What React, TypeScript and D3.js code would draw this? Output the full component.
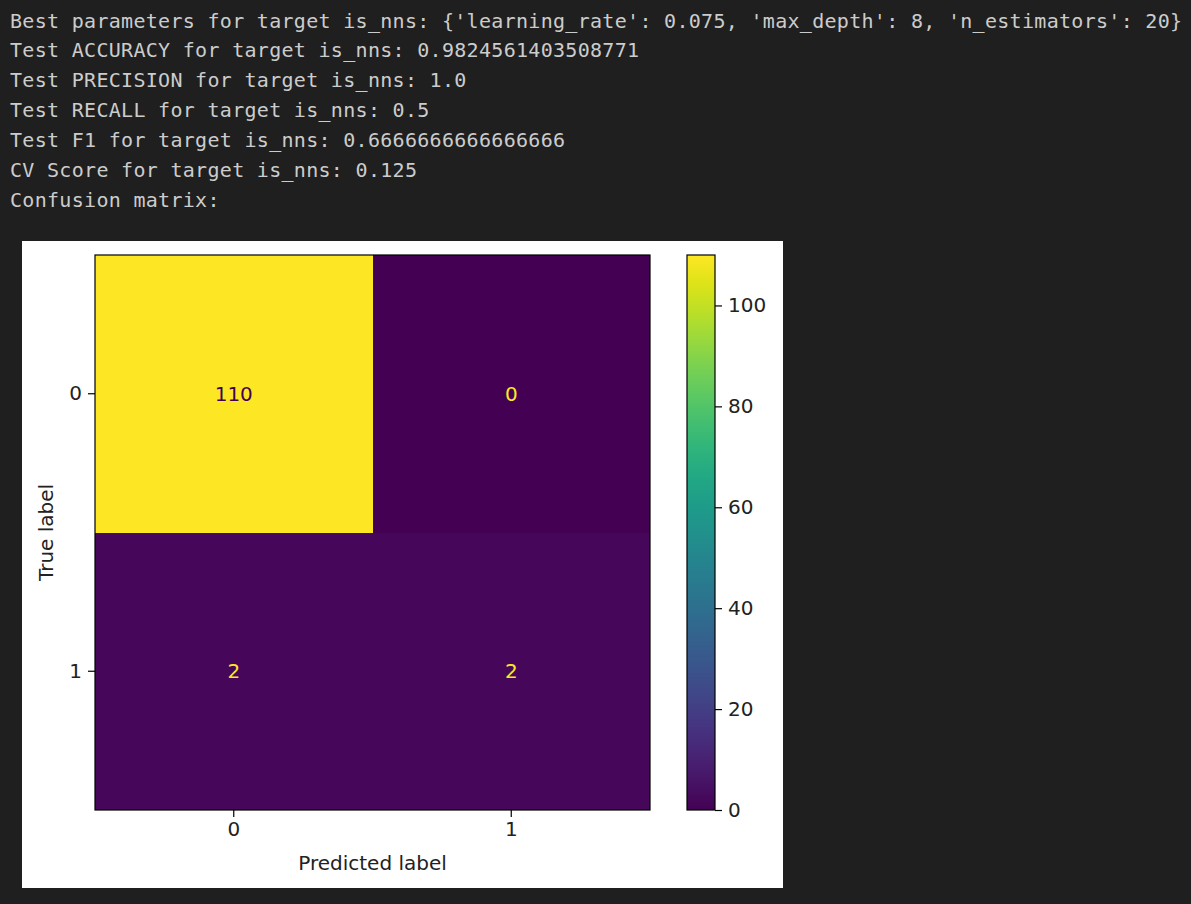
import { useEffect, useRef } from "react";
import * as d3 from "d3";

const logLines = [
  "Best parameters for target is_nns: {'learning_rate': 0.075, 'max_depth': 8, 'n_estimators': 20}",
  "Test ACCURACY for target is_nns: 0.9824561403508771",
  "Test PRECISION for target is_nns: 1.0",
  "Test RECALL for target is_nns: 0.5",
  "Test F1 for target is_nns: 0.6666666666666666",
  "CV Score for target is_nns: 0.125",
  "Confusion matrix:",
];

const trueLabels = ["0", "1"];
const predictedLabels = ["0", "1"];
const row0 = [110, 0];
const row1 = [2, 2];
const colorMin = 0;
const colorMax = 110;
const colorbarTicks = [0, 20, 40, 60, 80, 100];

export default function App() {
  const svgRef = useRef<SVGSVGElement>(null);

  useEffect(() => {
    if (!svgRef.current) return;
    const width = 1191;
    const height = 904;
    const svg = d3.select(svgRef.current);
    svg.selectAll("*").remove();
    svg.attr("viewBox", `0 0 ${width} ${height}`);

    // dark notebook background
    svg.append("rect").attr("width", width).attr("height", height).attr("fill", "#1f1f1f");

    // console output
    svg.append("g")
      .selectAll("text")
      .data(logLines)
      .join("text")
      .attr("x", 10)
      .attr("y", (_, i) => 27.5 + i * 29.85)
      .attr("fill", "#cccccc")
      .attr("font-family", "'DejaVu Sans Mono', 'Liberation Mono', monospace")
      .attr("font-size", "20px")
      .attr("letter-spacing", "0.3px")
      .style("white-space", "pre")
      .text(d => d);

    // white figure panel
    svg.append("rect")
      .attr("x", 22).attr("y", 241)
      .attr("width", 761).attr("height", 647)
      .attr("fill", "#ffffff");

    const font = "'DejaVu Sans', Verdana, sans-serif";
    const left = 95, top = 255, size = 555;

    const x = d3.scaleBand().domain(predictedLabels).range([left, left + size]);
    const y = d3.scaleBand().domain(trueLabels).range([top, top + size]);
    const color = d3.scaleSequential(d3.interpolateViridis).domain([colorMin, colorMax]);

    const cells = [row0, row1].flatMap((row, i) =>
      row.map((v, j) => ({ t: trueLabels[i], p: predictedLabels[j], v }))
    );

    svg.append("g")
      .selectAll("rect")
      .data(cells)
      .join("rect")
      .attr("x", d => x(d.p)!)
      .attr("y", d => y(d.t)!)
      .attr("width", x.bandwidth())
      .attr("height", y.bandwidth())
      .attr("fill", d => color(d.v))
      .attr("shape-rendering", "crispEdges");

    svg.append("g")
      .selectAll("text")
      .data(cells)
      .join("text")
      .attr("x", d => x(d.p)! + x.bandwidth() / 2)
      .attr("y", d => y(d.t)! + y.bandwidth() / 2)
      .attr("dy", "0.36em")
      .attr("text-anchor", "middle")
      .attr("font-family", font)
      .attr("font-size", "20px")
      .attr("fill", d => (d.v > colorMax / 2 ? color(colorMin) : color(colorMax)))
      .text(d => d.v);

    // spines
    svg.append("rect")
      .attr("x", left).attr("y", top)
      .attr("width", size).attr("height", size)
      .attr("fill", "none").attr("stroke", "#000").attr("stroke-width", 1.2);

    // x axis
    const xAxis = svg.append("g")
      .attr("transform", `translate(0,${top + size})`)
      .call(d3.axisBottom(x).tickSize(7).tickPadding(5));
    xAxis.select(".domain").remove();
    xAxis.selectAll("line").attr("stroke", "#000").attr("stroke-width", 1.2);
    xAxis.selectAll("text").attr("font-family", font).attr("font-size", "20px").attr("fill", "#222");

    svg.append("text")
      .attr("x", left + size / 2)
      .attr("y", 870)
      .attr("text-anchor", "middle")
      .attr("font-family", font)
      .attr("font-size", "20px")
      .attr("fill", "#222")
      .text("Predicted label");

    // y axis
    const yAxis = svg.append("g")
      .attr("transform", `translate(${left},0)`)
      .call(d3.axisLeft(y).tickSize(7).tickPadding(6));
    yAxis.select(".domain").remove();
    yAxis.selectAll("line").attr("stroke", "#000").attr("stroke-width", 1.2);
    yAxis.selectAll("text").attr("font-family", font).attr("font-size", "20px").attr("fill", "#222");

    svg.append("text")
      .attr("transform", `translate(53,${top + size / 2}) rotate(-90)`)
      .attr("text-anchor", "middle")
      .attr("font-family", font)
      .attr("font-size", "20px")
      .attr("fill", "#222")
      .text("True label");

    // colorbar
    const cbLeft = 687, cbWidth = 28;
    const cy = d3.scaleLinear().domain([colorMin, colorMax]).range([top + size, top]);
    const grad = svg.append("defs").append("linearGradient")
      .attr("id", "viridis-grad")
      .attr("x1", "0").attr("y1", "1").attr("x2", "0").attr("y2", "0");
    d3.range(0, 1.0001, 0.05).forEach(t => {
      grad.append("stop")
        .attr("offset", `${t * 100}%`)
        .attr("stop-color", d3.interpolateViridis(t));
    });
    svg.append("rect")
      .attr("x", cbLeft).attr("y", top)
      .attr("width", cbWidth).attr("height", size)
      .attr("fill", "url(#viridis-grad)")
      .attr("stroke", "#000").attr("stroke-width", 1.2);

    const cAxis = svg.append("g")
      .attr("transform", `translate(${cbLeft + cbWidth},0)`)
      .call(d3.axisRight(cy).tickValues(colorbarTicks).tickSize(7).tickPadding(6));
    cAxis.select(".domain").remove();
    cAxis.selectAll("line").attr("stroke", "#000").attr("stroke-width", 1.2);
    cAxis.selectAll("text").attr("font-family", font).attr("font-size", "20px").attr("fill", "#222");
  }, []);

  return (
    <div style={{ position: "fixed", left: 0, top: 0, width: 1191, height: 904 }}>
      <svg ref={svgRef} width={1191} height={904} style={{ display: "block" }} />
    </div>
  );
}
